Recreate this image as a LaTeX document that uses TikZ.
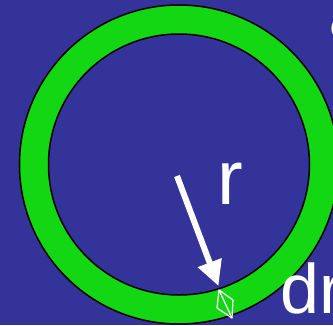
\documentclass[tikz,border=0pt]{standalone}
\usepackage{fontspec}
\setmainfont{Liberation Sans}
\usetikzlibrary{arrows.meta}
\definecolor{bgblue}{RGB}{51,51,153}
\definecolor{ringgreen}{RGB}{20,215,20}
\tikzset{
  ringline/.style={draw=black,line width=1.5pt},
  bigtext/.style={text=white,inner sep=0pt,anchor=base west},
  radarrow/.style={draw=white,line width=6pt,-{Triangle[length=25pt,width=24pt]}},
  elem/.style={draw=white,line width=1.2pt,line join=round}
}
\begin{document}
\begin{tikzpicture}[x=1pt,y=-1pt]
\useasboundingbox (0,0) rectangle (333,325);
\clip (0,0) rectangle (333,325);
\fill[bgblue] (0,0) rectangle (333,325);
\coordinate (c) at (179,164.5);
\fill[ringgreen,even odd rule] (c) circle[radius=159.5] (c) circle[radius=130.5];
\draw[ringline] (c) circle[radius=159.5];
\draw[ringline] (c) circle[radius=130.5];
\coordinate (rs) at (177,176);
\coordinate (rt) at (218.5,286);
\draw[radarrow] (rs) -- (rt);
\coordinate (e1) at (219,290);
\coordinate (e2) at (233,300);
\coordinate (e3) at (232,318);
\coordinate (e4) at (217,308);
\draw[elem] (e1) -- (e2) -- (e3) -- (e4) -- cycle;
\draw[elem] (e1) -- (e3);
\node[bigtext,font=\fontsize{77}{77}\selectfont] (rlab) at (217,204) {r};
\node[bigtext,font=\fontsize{70}{70}\selectfont] (drlab) at (280,313) {dr};
\node[bigtext,font=\fontsize{28}{28}\selectfont] (clab) at (330,38) {C};
\end{tikzpicture}
\end{document}
